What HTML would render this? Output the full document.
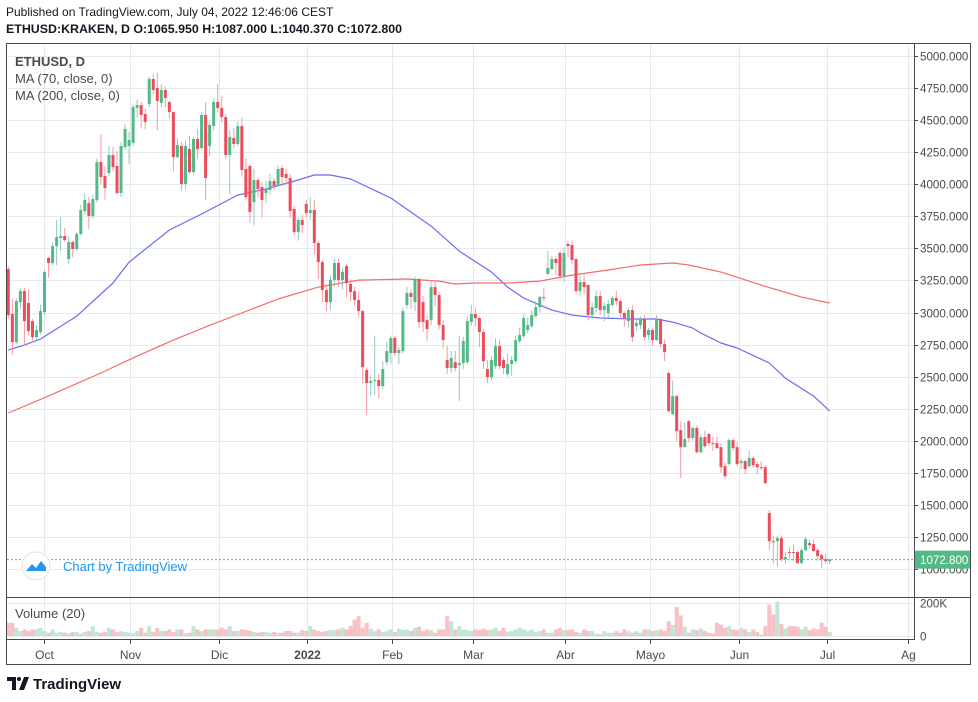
<!DOCTYPE html>
<html><head><meta charset="utf-8"><title>ETHUSD chart</title>
<style>
html,body{margin:0;padding:0;background:#fff;}
body{width:978px;height:702px;overflow:hidden;position:relative;font-family:"Liberation Sans",sans-serif;}
.hdr{position:absolute;left:6px;font-size:12px;color:#131722;white-space:nowrap;}
svg text{font-family:"Liberation Sans",sans-serif;}
</style></head>
<body>
<div class="hdr" style="top:5px">Published on TradingView.com, July 04, 2022 12:46:06 CEST</div>
<div class="hdr" style="top:22px;font-weight:bold;font-size:12.4px">ETHUSD:KRAKEN, D O:1065.950 H:1087.000 L:1040.370 C:1072.800</div>
<svg id="chart" width="978" height="702" style="position:absolute;left:0;top:0">
  <g id="grid"></g>
  <g id="volg"></g>
  <g id="ma"></g>
  <g id="candles"></g>
  <g id="axes"></g>
  <rect x="6.5" y="43.5" width="964" height="621" fill="none" stroke="#4a4a4a"/>
  <line x1="6" y1="597.5" x2="971" y2="597.5" stroke="#4a4a4a"/>
  <line x1="914.5" y1="43" x2="914.5" y2="640" stroke="#4a4a4a"/>
  <line x1="6" y1="639.5" x2="914" y2="639.5" stroke="#4a4a4a"/>
  <text x="15" y="66" font-size="13" font-weight="bold" fill="#4a4a4a">ETHUSD, D</text>
  <text x="15" y="83" font-size="13" fill="#4a4a4a">MA (70, close, 0)</text>
  <text x="15" y="100" font-size="13" fill="#4a4a4a">MA (200, close, 0)</text>
  <text x="15" y="618" font-size="13" fill="#4a4a4a">Volume (20)</text>
  <g>
    <circle cx="36" cy="566" r="14" fill="#fff" stroke="#e0e3eb"/>
    <path d="M26 571 L32 564 L36 568 L41 561 L46 567 L46 571 Z" fill="#2196f3"/>
    <text x="63" y="571" font-size="13" fill="#2196f3">Chart by TradingView</text>
  </g>
  <g>
    <path d="M7 677 H16 V690 H12 V681 H7 Z" fill="#131722"/>
    <circle cx="19" cy="679" r="2" fill="#131722"/>
    <path d="M19 690 L24 677 H29 L24 690 Z" fill="#131722"/>
    <text x="33" y="689" font-size="15" font-weight="bold" fill="#131722">TradingView</text>
  </g>
</svg>
<script>
// ---- data ----
const opens = [3339,2988,2769,3081,3167,3074,2933,2808,2847,3003,3425,3386,3518,3581,3596,3417,3549,3495,3612,3791,3854,3752,3877,4173,4064,4088,4228,4142,3932,4290,4298,4322,4595,4618,4548,4626,4821,4751,4634,4735,4641,4563,4212,4298,4002,4275,4095,4353,4282,4540,4298,4454,4641,4595,4524,4228,4361,4314,4454,4119,4142,3861,4033,3978,3932,3955,4025,3986,4126,4080,4049,3807,3627,3721,3846,3776,3799,3542,3393,3175,3081,3253,3386,3253,3362,3222,3167,3097,3011,2551,2450,2473,2473,2426,2613,2684,2801,2684,2699,3058,3152,3081,3261,3081,2941,2941,3198,3136,2902,2629,2567,2613,2590,2606,2613,2925,2988,2957,2847,2559,2496,2582,2738,2629,2520,2598,2621,2777,2816,2863,2894,2972,3042,3120,3300,3339,3417,3464,3284,3534,3526,3417,3167,3237,3214,2980,3035,3128,3019,2996,3058,3113,3089,2996,2933,3019,2894,2902,2949,2824,2863,2785,2949,2754,2528,2208,2348,2083,1950,2153,2021,2099,1911,2028,2052,1982,1982,1950,1802,1818,2005,1950,1826,1841,1802,1865,1818,1794,1794,1436,1217,1217,1241,1077,1132,1132,1132,1046,1147,1202,1194,1147,1108,1077,1061];
const closes = [2980,2769,3089,3167,2933,2855,2808,2863,3011,3315,3386,3518,3588,3596,3565,3549,3495,3612,3799,3877,3752,3885,4173,4056,3971,4228,4134,3932,4298,4431,4345,4602,4618,4540,4485,4821,4735,4649,4735,4673,4563,4212,4306,4002,4298,4095,4353,4275,4540,4049,4462,4641,4595,4524,4228,4368,4314,4454,4111,3900,3783,4033,3963,3877,3963,4025,3986,4119,4056,4049,3791,3627,3721,3682,3776,3799,3542,3393,3175,3081,3253,3386,3253,3316,3230,3160,3097,3011,2574,2450,2465,2473,2426,2559,2699,2801,2684,2707,3011,3152,3121,3261,2925,2925,2871,3198,3136,2902,2785,2567,2645,2567,2606,2777,2933,2988,2957,2847,2621,2496,2629,2738,2582,2567,2598,2629,2785,2824,2957,2902,2980,3042,3120,3113,3347,3417,3386,3284,3464,3518,3409,3167,3237,3198,2980,3042,3128,3019,3050,3066,3113,3089,2996,2957,3019,2808,2918,2949,2808,2863,2785,2949,2754,2691,2231,2348,2075,1950,2013,2021,2099,1911,2028,1958,1982,1975,1942,1794,1724,2005,1942,1818,1841,1779,1865,1810,1794,1790,1670,1217,1215,1241,1077,1093,1130,1124,1046,1147,1233,1186,1140,1100,1077,1061,1073];
const highs = [3360,3110,3110,3190,3190,3180,2950,2900,3060,3335,3435,3545,3720,3745,3660,3600,3560,3630,3840,3930,3900,3920,4200,4390,4140,4300,4290,4260,4330,4470,4410,4620,4660,4640,4590,4840,4860,4870,4780,4760,4650,4570,4360,4330,4340,4380,4370,4430,4560,4640,4490,4670,4780,4690,4550,4420,4440,4490,4520,4200,4160,4120,4050,4020,4030,4080,4050,4150,4150,4120,4080,3830,3740,3760,3880,3900,3880,3560,3410,3220,3290,3420,3420,3350,3380,3260,3200,3160,3020,2570,2510,2820,2520,2620,2770,2820,2820,2730,3040,3200,3180,3280,3270,3130,2980,3250,3240,3160,2940,2740,2700,2700,2820,2810,2970,3060,3040,2970,2870,2630,2660,2800,2790,2650,2680,2660,2820,2880,2990,2960,3020,3090,3130,3190,3480,3440,3440,3480,3510,3560,3560,3420,3290,3300,3220,3080,3170,3170,3080,3100,3130,3170,3100,3010,3040,3060,2950,2970,2980,2880,2880,2980,2960,2790,2540,2470,2360,2150,2140,2160,2110,2120,2050,2080,2060,2030,2030,1980,1830,2020,2020,1990,1860,1850,1920,1880,1840,1840,1810,1460,1260,1260,1260,1130,1170,1190,1140,1160,1250,1230,1230,1160,1120,1120,1087];
const lows = [2955,2670,2750,3030,2740,2820,2780,2790,2830,2980,3270,3370,3370,3480,3550,3380,3430,3480,3600,3760,3650,3730,3860,4000,3880,4060,4100,3920,3900,4270,4160,4300,4520,4440,4430,4600,4700,4420,4600,4600,4510,4100,4200,3950,3960,4080,4080,4200,4270,3880,4220,4420,4560,4480,4200,3920,4280,4300,4060,3880,3700,3680,3900,3740,3860,3920,3960,3980,4000,4000,3740,3600,3560,3620,3740,3720,3450,3260,3080,3010,3020,3200,3200,3180,3120,3090,3050,2960,2450,2200,2350,2360,2330,2400,2590,2600,2660,2600,2680,3030,3030,3010,2880,2850,2780,2900,3050,2870,2720,2520,2530,2540,2310,2560,2600,2900,2890,2730,2560,2450,2470,2560,2560,2520,2500,2510,2600,2760,2800,2840,2880,2960,3000,3090,3290,3330,3290,3260,3240,3430,3380,3150,3130,3140,2940,2950,3000,2980,2930,2960,3040,3050,2950,2890,2880,2770,2860,2870,2780,2790,2740,2780,2720,2620,2220,2200,2000,1710,1950,1990,2000,1900,1900,1940,1960,1920,1940,1750,1700,1810,1920,1800,1780,1740,1790,1790,1740,1770,1660,1150,1040,1020,1060,1040,1080,1060,1040,1040,1140,1160,1130,1060,1010,1040,1040];
const volumes = [80,80,50,30,40,30,40,40,50,30,20,40,20,24,20,16,24,24,16,24,30,60,24,20,24,50,40,24,30,24,20,16,30,50,20,60,24,50,30,30,40,24,40,40,16,20,60,40,30,40,40,40,40,50,40,60,30,30,40,36,32,24,20,24,24,20,24,20,20,30,30,20,20,36,30,60,40,30,24,30,36,36,40,50,40,60,100,120,50,80,44,30,40,24,30,40,24,44,36,40,30,50,56,30,40,36,20,40,40,120,90,40,60,40,36,30,40,36,44,36,40,50,30,50,26,30,40,50,40,30,40,24,30,40,20,20,40,50,36,36,40,24,20,40,30,30,16,10,30,20,20,30,20,40,30,20,30,20,40,40,30,36,40,30,90,67,175,125,56,20,40,36,44,30,20,16,80,70,50,60,40,36,50,40,24,40,24,8,60,190,130,208,72,46,60,60,56,40,56,36,46,40,80,56,24];
const ma70Idx = [0,4,8,17,26,30,40,48,57,64,72,76,80,85,95,105,112,120,124,128,132,135,140,147,155,161,165,170,172,177,181,189,193,200,204];
const ma70Val = [2707,2746,2793,2972,3230,3393,3643,3768,3916,3963,4033,4072,4072,4041,3893,3674,3479,3315,3198,3113,3058,3019,2980,2957,2949,2949,2925,2878,2839,2762,2723,2606,2488,2348,2231];
const ma200Idx = [0,10,23,32,41,50,58,67,77,87,99,107,111,116,124,132,140,149,157,165,169,177,187,197,204];
const ma200Val = [2216,2350,2528,2660,2785,2900,2996,3105,3198,3253,3261,3245,3222,3230,3230,3245,3292,3331,3370,3386,3370,3315,3214,3120,3074];
const priceTicks = [5000,4750,4500,4250,4000,3750,3500,3250,3000,2750,2500,2250,2000,1750,1500,1250,1000];
const monthLabels = ["Oct","Nov","Dic","2022","Feb","Mar","Abr","Mayo","Jun","Jul","Ag"];
const monthIdx = [8.9,30.2,52.3,74.2,95.3,115.4,138.3,159.4,181.5,203.4,223.4];
const volTicks = [200,0];
const lastPrice = 1072.8;

// ---- scales ----
const NS = "http://www.w3.org/2000/svg";
const N = closes.length;
const xScale = i => 8.3 + i * (821.4 / 204);
const yScale = p => 56 + (5000 - p) * 0.12825;
const vScale = v => 636 - v * 0.165;
function mk(tag, attrs, parent){
  const e = document.createElementNS(NS, tag);
  for (const k in attrs) e.setAttribute(k, attrs[k]);
  parent.appendChild(e);
  return e;
}
const grid = document.getElementById("grid");
const axes = document.getElementById("axes");
const cg = document.getElementById("candles");
const vg = document.getElementById("volg");
const mg = document.getElementById("ma");

priceTicks.forEach(p => {
  const y = Math.round(yScale(p)) + 0.5;
  const gl = mk("line", {x1:7, x2:914, y1:y, y2:y, stroke:"#e3ebf1"}, grid);
  
  
  const tk = mk("line", {x1:914, x2:918, y1:y, y2:y, stroke:"#4a4a4a"}, axes);
  
  
  const t = mk("text", {x:920, y:y+4, "font-size":11.6, fill:"#4a4a4a"}, axes);
  t.textContent = p.toFixed(3);
  
  
});
volTicks.forEach(v => {
  const y = Math.round(vScale(v)) + 0.5;
  const gl = mk("line", {x1:7, x2:914, y1:y, y2:y, stroke:"#e3ebf1"}, grid);
  
  
  const t = mk("text", {x:920, y:y+4, "font-size":11.6, fill:"#4a4a4a"}, axes);
  t.textContent = v === 0 ? "0" : v + "K";
  
  
});
monthLabels.forEach((m, k) => {
  const x = Math.round(xScale(monthIdx[k])) + 0.5;
  if (x < 914) {
    const gl = mk("line", {x1:x, x2:x, y1:44, y2:639, stroke:"#e3ebf1"}, grid);
    
    
  }
  const tk = mk("line", {x1:x, x2:x, y1:640, y2:644, stroke:"#4a4a4a"}, axes);
  
  
  const t = mk("text", {x:x, y:659, "font-size":12, fill:"#4a4a4a", "text-anchor":"middle", "font-weight": m === "2022" ? "bold" : "normal"}, axes);
  t.textContent = m;
  
  
});

volumes.forEach((v, i) => {
  const up = closes[i] >= opens[i];
  const x = xScale(i);
  const r = mk("rect", {x:x-2, y:vScale(v), width:4, height:636 - vScale(v), fill: up ? "#c2e6d5" : "#f8c1c6"}, vg);
  
  
});

function maPath(idx, val){
  return idx.map((i, k) => (k ? "L" : "M") + xScale(i).toFixed(1) + " " + yScale(val[k]).toFixed(1)).join(" ");
}
const m70 = mk("path", {d: maPath(ma70Idx, ma70Val), fill:"none", stroke:"#6b6bf5", "stroke-width":1.2, "stroke-linejoin":"round"}, mg);


const m200 = mk("path", {d: maPath(ma200Idx, ma200Val), fill:"none", stroke:"#f76a6a", "stroke-width":1.2, "stroke-linejoin":"round"}, mg);



for (let i = 0; i < N; i++) {
  const up = closes[i] >= opens[i];
  const x = xScale(i);
  const w = mk("line", {x1:x, x2:x, y1:yScale(highs[i]), y2:yScale(lows[i]), stroke: up ? "#93c8bd" : "#f39ba4", "stroke-width":1}, cg);
  
  
  const top = yScale(Math.max(opens[i], closes[i]));
  const bot = yScale(Math.min(opens[i], closes[i]));
  const b = mk("rect", {x:x-1.5, y:top, width:3, height:Math.max(1, bot - top), fill: up ? "#53b987" : "#eb4d5c"}, cg);
  
  
}

const ly = yScale(lastPrice);
const dl = mk("line", {x1:7, x2:914, y1:ly, y2:ly, stroke:"#53b987", "stroke-dasharray":"2 2"}, axes);


const lb = mk("rect", {x:915, y:ly-9, width:55, height:18, fill:"#53b987"}, axes);


const lt = mk("text", {x:920, y:ly+4.5, "font-size":11.6, fill:"#fff"}, axes);
lt.textContent = lastPrice.toFixed(3);


</script>
</body></html>
